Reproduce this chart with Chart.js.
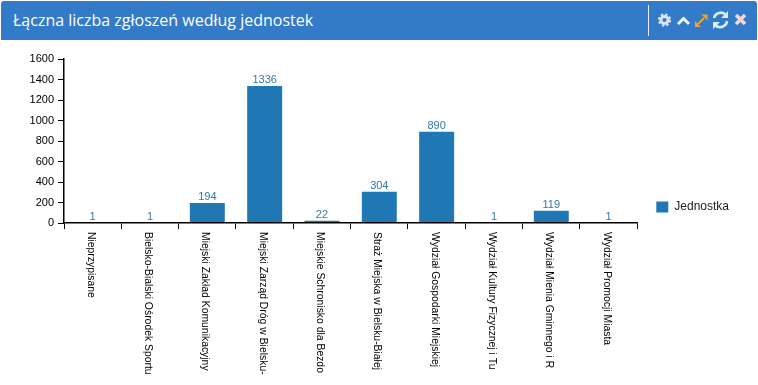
<!DOCTYPE html>
<html lang="pl">
<head>
<meta charset="utf-8">
<title>Łączna liczba zgłoszeń według jednostek</title>
<script src="https://cdn.jsdelivr.net/npm/chart.js@4"></script>
<style>
    html, body { margin: 0; padding: 0; background: #fff; overflow: hidden; }
    #wrap { position: relative; width: 758px; height: 385px; }
    #chart { position: absolute; left: 0; top: 0; }
    #header {
        position: absolute; left: 1px; top: 1px; width: 756px; height: 39px;
        background: #337ac9; border-radius: 3px 3px 0 0;
    }
    #title {
        position: absolute; left: 12px; top: 7px; color: #fff; white-space: nowrap;
        font: 16px/24px "Open Sans", sans-serif;
    }
    #icons { position: absolute; left: 0; top: 0; }
</style>
</head>
<body>
<div id="wrap">
    <canvas id="chart" width="758" height="385"></canvas>
    <div id="header">
        <div id="title">Łączna liczba zgłoszeń według jednostek</div>
        <svg id="icons" width="756" height="39" fill="none">
            <line x1="647.5" y1="4" x2="647.5" y2="35" stroke="#e8f0fa"/>
            <circle cx="663.5" cy="19" r="3.6" stroke="#d9e5f3" stroke-width="3"/>
            <circle cx="663.5" cy="19" r="5.6" stroke="#d9e5f3" stroke-width="2" stroke-dasharray="2.4 2"/>
            <path d="M677 23l5.5-5.5 5.5 5.5" stroke="#eef4fb" stroke-width="3"/>
            <path d="M697 23l6-6" stroke="#f0a62e" stroke-width="2"/>
            <path d="M700.500 13.500h6v6zM694 20v6h6z" fill="#f0a62e"/>
            <path d="M713 17a7 7 0 0 1 12-3M726 20a7 7 0 0 1-12 4" stroke="#d8eeee" stroke-width="2.6"/>
            <path d="M727 10v7h-7zM712 28v-7h7z" fill="#d8eeee"/>
            <path d="M735 14l9 9M744 14l-9 9" stroke="#fbd6d0" stroke-width="3.6"/>
        </svg>
    </div>
</div>
<script>
const categories = [
    'Nieprzypisane',
    'Bielsko-Bialski Ośrodek Sportu',
    'Miejski Zakład Komunikacyjny',
    'Miejski Zarząd Dróg w Bielsku-',
    'Miejskie Schronisko dla Bezdo',
    'Straż Miejska w Bielsku-Białej',
    'Wydział Gospodarki Miejskiej',
    'Wydział Kultury Fizycznej i Tu',
    'Wydział Mienia Gminnego i R',
    'Wydział Promocji Miasta'
];
const seriesName = 'Jednostka';
const seriesValues = [1, 1, 194, 1336, 22, 304, 890, 1, 119, 1];
const yTicks = [0, 200, 400, 600, 800, 1000, 1200, 1400, 1600];

const fontFamily = '"Liberation Sans", Arial, sans-serif';
const barColor = '#1f77b4';

// wartości nad słupkami
const valueLabels = {
    id: 'valueLabels',
    afterDatasetsDraw(chart) {
        const ctx = chart.ctx;
        ctx.save();
        ctx.font = '11px ' + fontFamily;
        ctx.fillStyle = '#2f78ad';
        ctx.textAlign = 'center';
        ctx.textBaseline = 'alphabetic';
        chart.getDatasetMeta(0).data.forEach((bar, i) => {
            ctx.fillText(seriesValues[i], bar.x, bar.y - 3);
        });
        ctx.restore();
    }
};

// Chart.js wyrównuje obrócone etykiety do osi końcem tekstu, tu mają zaczynać się przy osi
const rotatedLabels = {
    id: 'rotatedLabels',
    afterDraw(chart) {
        const ctx = chart.ctx;
        const scale = chart.scales.x;
        ctx.save();
        ctx.font = '10.4px ' + fontFamily;
        ctx.fillStyle = '#000';
        ctx.textAlign = 'left';
        ctx.textBaseline = 'middle';
        categories.forEach((label, i) => {
            ctx.save();
            ctx.translate(scale.getPixelForValue(i) - 2, scale.top + 9);
            ctx.rotate(Math.PI / 2);
            ctx.fillText(label, 0, 0);
            ctx.restore();
        });
        ctx.restore();
    }
};

new Chart(document.getElementById('chart'), {
    type: 'bar',
    data: {
        labels: categories,
        datasets: [{
            label: seriesName,
            data: seriesValues,
            backgroundColor: barColor,
            categoryPercentage: 0.61,
            barPercentage: 1
        }]
    },
    options: {
        responsive: false,
        animation: false,
        layout: { padding: { top: 59, bottom: 30, left: 0, right: 19 } },
        scales: {
            x: {
                ticks: { display: false, autoSkip: false },
                grid: {
                    z: 1,
                    drawOnChartArea: false,
                    tickLength: 6,
                    tickColor: c => (c.index === categories.length ? '#888' : '#000')
                },
                border: { z: 1, color: '#000', width: 1.5 },
                afterFit(scale) { scale.height = 132; }
            },
            y: {
                min: 0,
                max: 1600,
                afterBuildTicks(scale) { scale.ticks = yTicks.map(value => ({ value })); },
                ticks: {
                    color: '#000',
                    padding: 4,
                    font: { family: fontFamily, size: 11 },
                    callback: value => String(value)
                },
                grid: { drawOnChartArea: false, tickLength: 6, tickColor: '#000' },
                border: { color: '#000', width: 1.5 },
                afterFit(scale) { scale.width = 64; }
            }
        },
        plugins: {
            tooltip: { enabled: false },
            legend: {
                position: 'right',
                labels: {
                    color: '#222',
                    boxWidth: 12,
                    boxHeight: 11,
                    padding: 19,
                    font: { family: fontFamily, size: 12 }
                }
            }
        }
    },
    plugins: [valueLabels, rotatedLabels]
});
</script>
</body>
</html>
